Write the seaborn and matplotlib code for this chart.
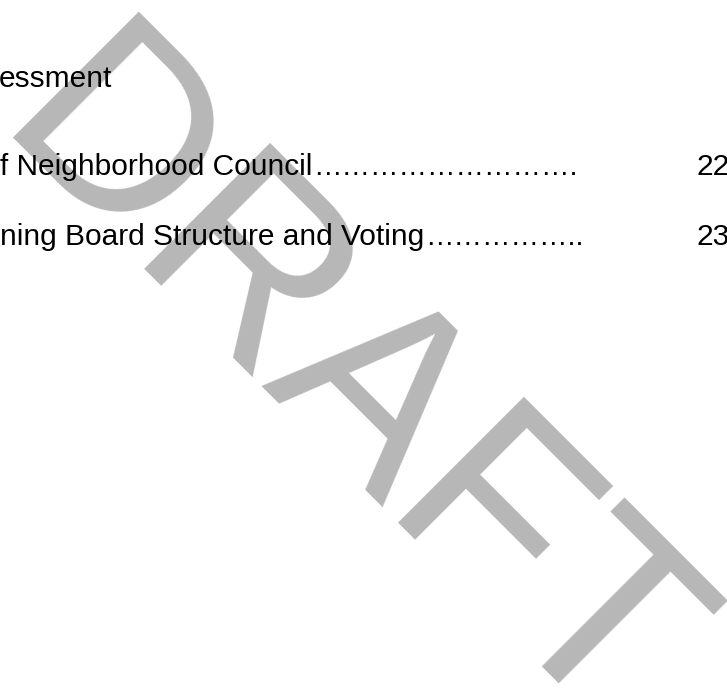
import matplotlib
matplotlib.use("Agg")
import matplotlib.pyplot as plt
import seaborn as sns

# 页面内容（目录片段 + 水印）
heading = "essment"
toc_titles = ["f Neighborhood Council", "ning Board Structure and Voting"]
toc_leaders = ["…" * 9 + ".", "…" * 5 + ".."]
toc_pages = ["22", "23"]
watermark = "DRAFT"

sns.set_theme(style="white")
plt.rcParams['font.family'] = ['Liberation Sans', 'DejaVu Sans']

W, H = 727, 698
fig = plt.figure(figsize=(W / 100, H / 100), dpi=100)
ax = fig.add_axes([0, 0, 1, 1])
ax.set_xlim(0, W)
ax.set_ylim(H, 0)
ax.axis('off')

# 水印
ax.text(-9, 137, watermark, rotation=-45, rotation_mode='anchor',
        ha='left', va='baseline', fontsize=186, color='#b7b7b7', zorder=0)

# 标题
ax.text(-1, 87, heading, ha='left', va='baseline', fontsize=21.5,
        color='black', zorder=2)

# 目录行
line_y = [175, 245]
title_objs = []
for i, (title, page) in enumerate(zip(toc_titles, toc_pages)):
    t = ax.text(0, line_y[i], title, ha='left', va='baseline', fontsize=21.5,
                color='black', zorder=2)
    title_objs.append(t)
    ax.text(696, line_y[i], page, ha='left', va='baseline', fontsize=21.5,
            color='black', zorder=2)

# 引导点接在标题之后
fig.canvas.draw()
renderer = fig.canvas.get_renderer()
for i, t in enumerate(title_objs):
    bb = t.get_window_extent(renderer)
    x_end = ax.transData.inverted().transform((bb.x1, bb.y0))[0]
    ax.text(x_end + 1, line_y[i], toc_leaders[i], ha='left', va='baseline',
            fontsize=20.5, color='black', zorder=2)

fig.savefig("out.png", dpi=100, facecolor='white')
